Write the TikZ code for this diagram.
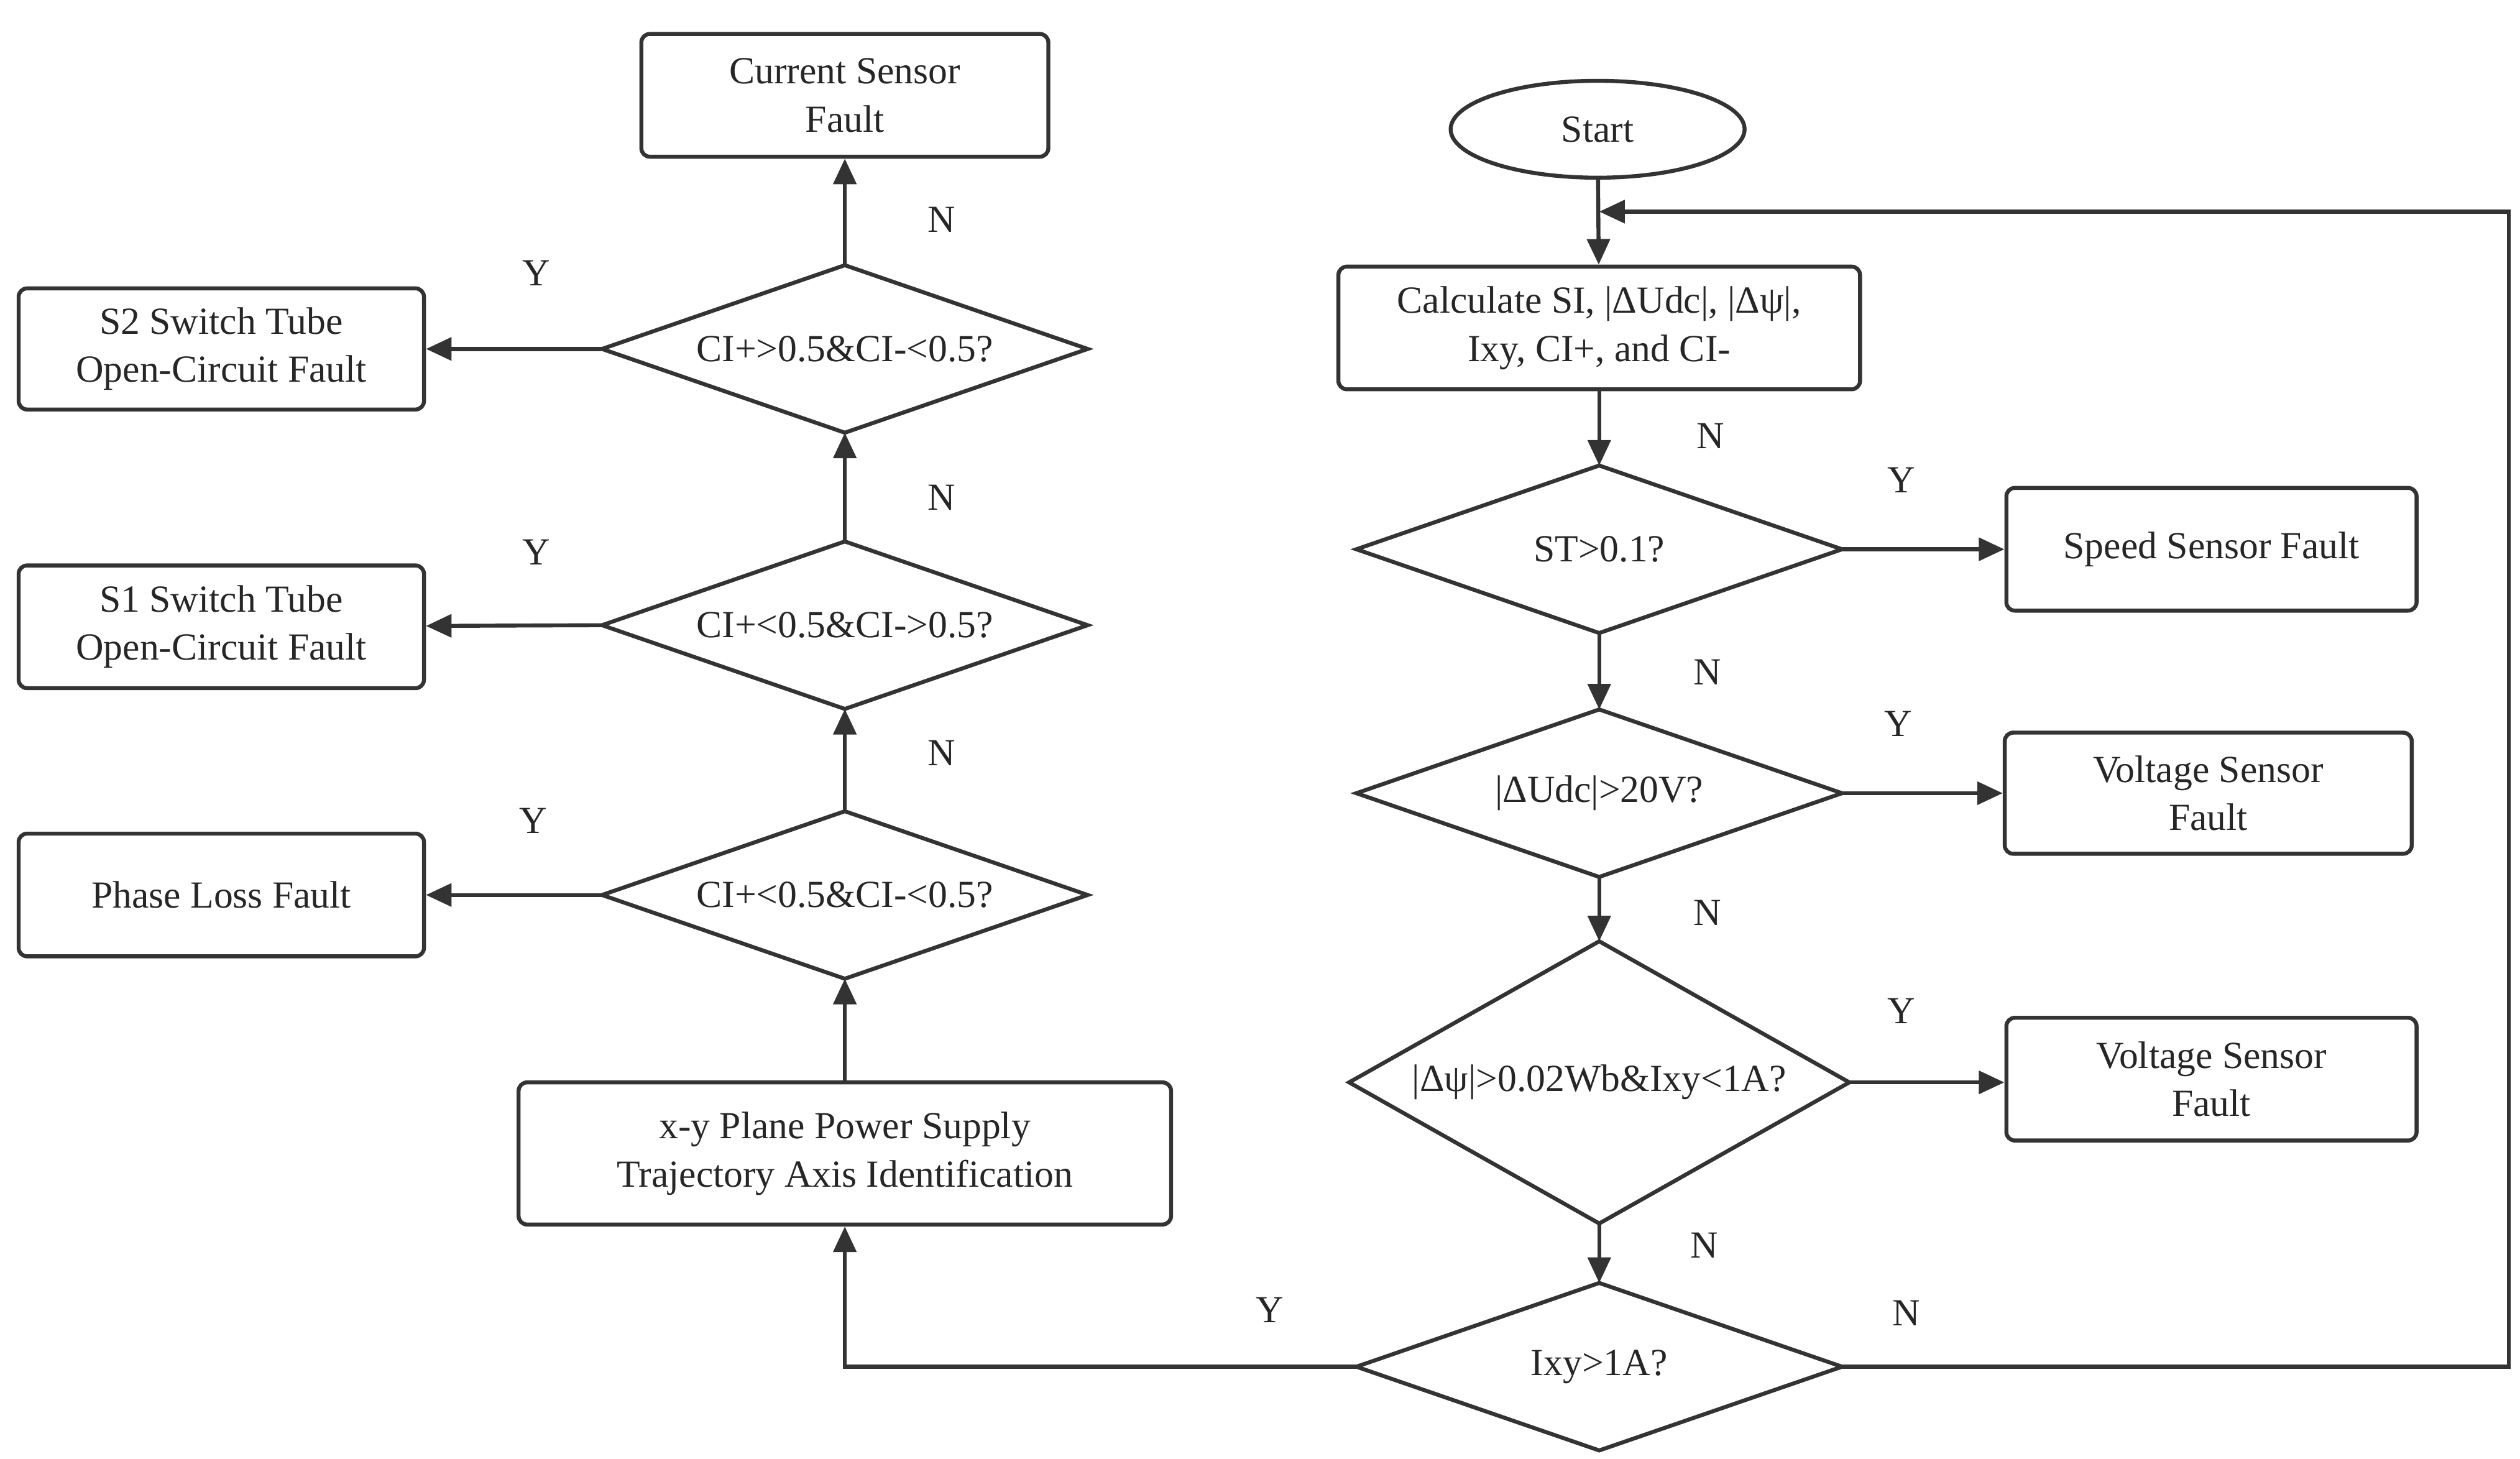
\documentclass[tikz,border=0pt]{standalone}
\usepackage{fontspec}
\setmainfont{Liberation Serif}
\usetikzlibrary{shapes.geometric,arrows.meta}
\begin{document}
\begin{tikzpicture}[x=0.02cm,y=-0.02cm,
  every node/.style={font=\fontsize{13.5}{17}\selectfont, text=black!85},
  line/.style={draw=black!80, line width=1.4pt},
  arr/.style={line, -{Triangle[length=9pt,width=8pt]}},
  box/.style={line, rectangle, rounded corners=3pt, align=center, inner sep=0pt},
  dia/.style={rectangle, inner sep=0pt, minimum width=6cm, minimum height=2.06cm},
  lab/.style={font=\fontsize{13.5}{17}\selectfont}]
\useasboundingbox (0,0) rectangle (1560,903);
\node[box, minimum width=5.04cm, minimum height=1.52cm] (csf) at (523,59) {Current Sensor\\Fault};
\node[box, minimum width=5.02cm, minimum height=1.5cm] (s2) at (137,216) {S2 Switch Tube\\Open-Circuit Fault};
\node[dia] (d1) at (523,216) {CI+>0.5\&CI-<0.5?};
\node[box, minimum width=5.02cm, minimum height=1.52cm] (s1) at (137,388) {S1 Switch Tube\\Open-Circuit Fault};
\node[dia] (d2) at (523,387) {CI+<0.5\&CI->0.5?};
\node[box, minimum width=5.02cm, minimum height=1.52cm] (pl) at (137,554) {Phase Loss Fault};
\node[dia] (d3) at (523,554) {CI+<0.5\&CI-<0.5?};
\node[box, minimum width=8.08cm, minimum height=1.76cm] (xy) at (523,714) {x-y Plane Power Supply\\Trajectory Axis Identification};
\node[line, ellipse, minimum width=3.64cm, minimum height=1.2cm] (start) at (989,80) {Start};
\node[box, minimum width=6.46cm, minimum height=1.52cm] (calc) at (990,203) {Calculate SI, |ΔUdc|, |Δψ|,\\Ixy, CI+, and CI-};
\node[dia] (st) at (990,340) {ST>0.1?};
\node[box, minimum width=5.08cm, minimum height=1.52cm] (ssf) at (1369,340) {Speed Sensor Fault};
\node[dia] (du) at (990,491) {|ΔUdc|>20V?};
\node[box, minimum width=5.04cm, minimum height=1.5cm] (vs1) at (1367,491) {Voltage Sensor\\Fault};
\node[dia, minimum width=6.18cm, minimum height=3.48cm] (dp) at (990,670) {|Δψ|>0.02Wb\&Ixy<1A?};
\node[box, minimum width=5.08cm, minimum height=1.52cm] (vs2) at (1369,668) {Voltage Sensor\\Fault};
\node[dia] (di) at (990,846) {Ixy>1A?};
\foreach \n in {d1,d2,d3,st,du,dp,di}
  \draw[line, line join=miter] (\n.north) -- (\n.east) -- (\n.south) -- (\n.west) -- cycle;
\coordinate (j) at (990,131);
\draw[arr] (start) -- (calc);
\draw[arr] (calc) -- (st.north);
\draw[arr] (st.south) -- (du.north);
\draw[arr] (du.south) -- (dp.north);
\draw[arr] (dp.south) -- (di.north);
\draw[arr] (st.east) -- (ssf);
\draw[arr] (du.east) -- (vs1);
\draw[arr] (dp.east) -- (vs2.west|-dp.east);
\draw[arr] (di.east) -- (1553,846) -- (1553,131) -- (j);
\draw[arr] (di.west) -- (523,846) -- (xy);
\draw[arr] (xy) -- (d3.south);
\draw[arr] (d3.north) -- (d2.south);
\draw[arr] (d2.north) -- (d1.south);
\draw[arr] (d1.north) -- (csf);
\draw[arr] (d1.west) -- (s2);
\draw[arr] (d2.west) -- (s1);
\draw[arr] (d3.west) -- (pl);
\node[lab] at (583,136) {N}; \node[lab] at (332,169) {Y};
\node[lab] at (583,308) {N}; \node[lab] at (332,342) {Y};
\node[lab] at (583,466) {N}; \node[lab] at (330,508) {Y};
\node[lab] at (1059,270) {N}; \node[lab] at (1177,297) {Y};
\node[lab] at (1057,416) {N}; \node[lab] at (1175,448) {Y};
\node[lab] at (1057,565) {N}; \node[lab] at (1177,626) {Y};
\node[lab] at (1055,771) {N}; \node[lab] at (786,811) {Y};
\node[lab] at (1180,813) {N};
\end{tikzpicture}
\end{document}
